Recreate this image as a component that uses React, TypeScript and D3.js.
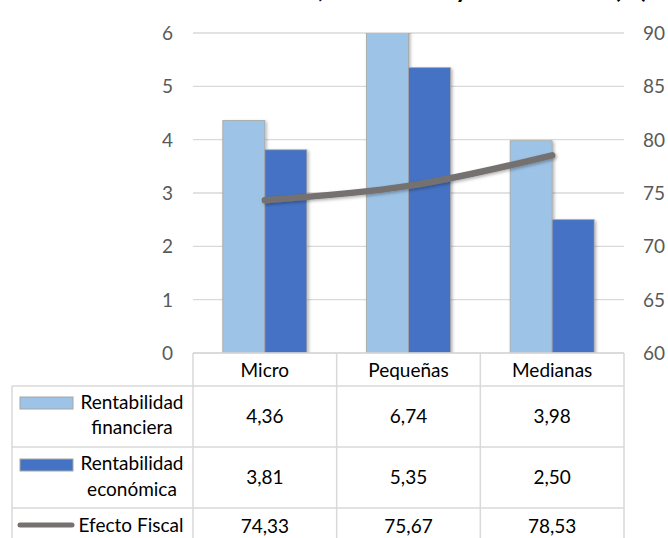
import React from "react";
import * as d3 from "d3";

const categories = ["Micro", "Pequeñas", "Medianas"];
const rentFinanciera = [4.36, 6.74, 3.98];
const rentEconomica = [3.81, 5.35, 2.5];
const efectoFiscal = [74.33, 75.67, 78.53];
const leftTicks = [0, 1, 2, 3, 4, 5, 6];
const rightTicks = [60, 65, 70, 75, 80, 85, 90];
const seriesNames = ["Rentabilidad financiera", "Rentabilidad económica", "Efecto Fiscal"];
const titleText = "Rentabilidad financiera, económica y efecto fiscal (%)";

const W = 668;
const H = 538;
const FONT = "Lato, Carlito, Calibri, sans-serif";
const C_LIGHT = "#9DC3E6";
const C_DARK = "#4472C4";
const C_LINE = "#767171";
const C_GRID = "#d9d9d9";

const locale = d3.formatLocale({ decimal: ",", thousands: ".", grouping: [3], currency: ["", "€"] });
const fmt = locale.format(".2f");

export default function App() {
  const plotL = 193, plotR = 624, plotT = 33, plotB = 353;
  const x = d3.scaleBand<string>().domain(categories).range([plotL, plotR]).padding(0);
  const yL = d3.scaleLinear().domain([0, 6]).range([plotB, plotT]);
  const yR = d3.scaleLinear().domain([60, 90]).range([plotB, plotT]);
  const barW = 42;
  const sub = d3.scaleBand<string>().domain(["f", "e"]).range([-barW, barW]).padding(0);

  const line = d3
    .line<number>()
    .x((_, i) => (x(categories[i]) as number) + x.bandwidth() / 2)
    .y((d) => yR(d))
    .curve(d3.curveCatmullRom.alpha(0.5));

  const rowY = [353, 386, 447, 508, 545];
  const tableL = 12;
  const colEdges = [plotL, ...categories.map((c) => (x(c) as number) + x.bandwidth())];

  return (
    <svg
      width={W}
      height={H}
      style={{ position: "absolute", left: 0, top: 0, background: "#fff" }}
      fontFamily={FONT}
    >
      <defs>
        <clipPath id="plotClip">
          <rect x={plotL} y={plotT} width={plotR - plotL} height={plotB - plotT} />
        </clipPath>
        <filter id="shadow" x="-20%" y="-20%" width="140%" height="140%">
          <feDropShadow dx="1.5" dy="1.5" stdDeviation="1.5" floodColor="#000" floodOpacity="0.3" />
        </filter>
      </defs>

      <text x={648} y={-2.5} textAnchor="end" fontSize={25} fontWeight="bold" fill="#000">
        {titleText}
      </text>

      {/* gridlines */}
      {leftTicks.map((t) => (
        <line key={t} x1={plotL} x2={plotR} y1={yL(t)} y2={yL(t)} stroke={C_GRID} strokeWidth={1.3} />
      ))}

      {/* left axis labels */}
      {leftTicks.map((t) => (
        <text key={"l" + t} x={173} y={yL(t)} dy="0.36em" textAnchor="end" fontSize={19} fill="#595959">
          {t}
        </text>
      ))}
      {/* right axis labels */}
      {rightTicks.map((t) => (
        <text key={"r" + t} x={643} y={yR(t)} dy="0.36em" textAnchor="start" fontSize={19} fill="#595959">
          {t}
        </text>
      ))}

      {/* bars */}
      <g clipPath="url(#plotClip)">
        {categories.map((c, i) => {
          const cx = (x(c) as number) + x.bandwidth() / 2;
          return (
            <g key={c} filter="url(#shadow)">
              <rect
                x={cx + (sub("f") as number)}
                y={yL(rentFinanciera[i])}
                width={sub.bandwidth()}
                height={plotB - yL(rentFinanciera[i])}
                fill={C_LIGHT}
                stroke="#a6a6a6"
                strokeWidth={0.8}
              />
              <rect
                x={cx + (sub("e") as number)}
                y={yL(rentEconomica[i])}
                width={sub.bandwidth()}
                height={plotB - yL(rentEconomica[i])}
                fill={C_DARK}
                stroke="#a6a6a6"
                strokeWidth={0.8}
              />
            </g>
          );
        })}
      </g>

      {/* line */}
      <path
        d={line(efectoFiscal) as string}
        fill="none"
        stroke={C_LINE}
        strokeWidth={6.5}
        strokeLinecap="round"
        filter="url(#shadow)"
      />

      {/* data table */}
      <g stroke={C_GRID} strokeWidth={1.5}>
        <line x1={plotL} x2={plotR} y1={rowY[0]} y2={rowY[0]} />
        {rowY.slice(1, 4).map((y) => (
          <line key={y} x1={tableL} x2={plotR} y1={y} y2={y} />
        ))}
        <line x1={tableL} x2={tableL} y1={rowY[1]} y2={H} />
        {colEdges.map((cx) => (
          <line key={cx} x1={cx} x2={cx} y1={rowY[0]} y2={H} />
        ))}
      </g>

      {categories.map((c) => (
        <text
          key={"h" + c}
          x={(x(c) as number) + x.bandwidth() / 2}
          y={377}
          textAnchor="middle"
          fontSize={19}
          fill="#000"
        >
          {c}
        </text>
      ))}

      {categories.map((c, i) => {
        const cx = (x(c) as number) + x.bandwidth() / 2;
        return (
          <g key={"v" + c} fontSize={19} fill="#000" textAnchor="middle">
            <text x={cx} y={423}>{fmt(rentFinanciera[i])}</text>
            <text x={cx} y={484}>{fmt(rentEconomica[i])}</text>
            <text x={cx} y={533}>{fmt(efectoFiscal[i])}</text>
          </g>
        );
      })}

      {/* legend keys in table */}
      <rect x={20} y={397} width={53} height={12} fill={C_LIGHT} stroke="#a6a6a6" strokeWidth={1} />
      <rect x={20} y={459} width={53} height={12} fill={C_DARK} stroke="#a6a6a6" strokeWidth={1} />
      <line x1={20} x2={72} y1={525} y2={525} stroke={C_LINE} strokeWidth={5} strokeLinecap="round" />

      <g fontSize={19} fill="#000" textAnchor="middle">
        <text x={132} y={409}>{seriesNames[0].split(" ")[0]}</text>
        <text x={132} y={434}>{seriesNames[0].split(" ")[1]}</text>
        <text x={132} y={470}>{seriesNames[1].split(" ")[0]}</text>
        <text x={132} y={496}>{seriesNames[1].split(" ")[1]}</text>
        <text x={131} y={532}>{seriesNames[2]}</text>
      </g>
    </svg>
  );
}
